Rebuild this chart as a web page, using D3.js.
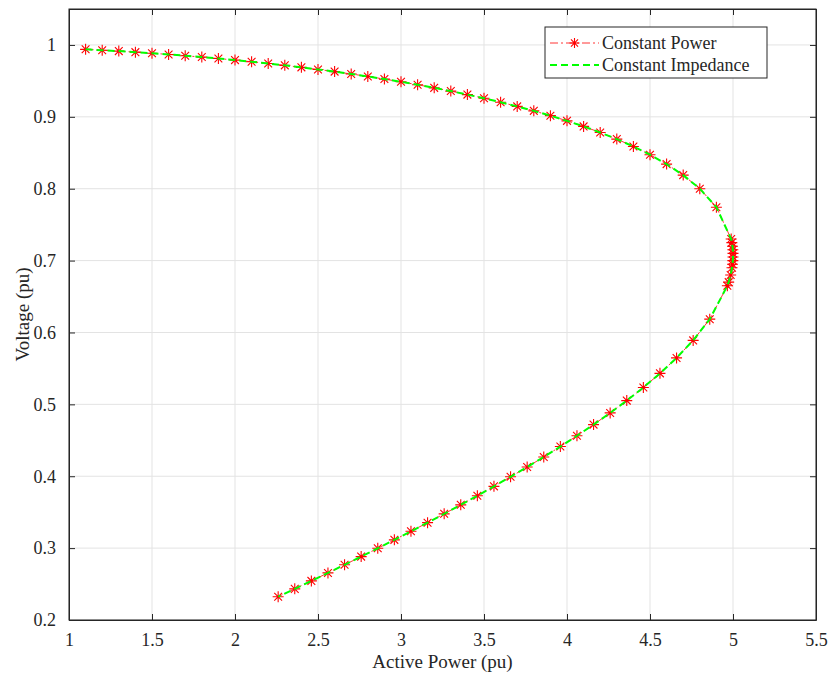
<!DOCTYPE html>
<html>
<head>
<meta charset="utf-8">
<script src="https://cdn.jsdelivr.net/npm/d3@7"></script>
<style>
  body { margin: 0; background: #fff; }
  svg text { font-family: "Liberation Serif", "Times New Roman", serif !important; fill: #262626; }
</style>
</head>
<body>
<svg id="chart" width="830" height="675"></svg>
<script>
// Constant Power (upper branch, then nose, then lower branch)
const powerP = [
  1.1, 1.2, 1.3, 1.4, 1.5, 1.6, 1.7, 1.8, 1.9, 2.0,
  2.1, 2.2, 2.3, 2.4, 2.5, 2.6, 2.7, 2.8, 2.9, 3.0,
  3.1, 3.2, 3.3, 3.4, 3.5, 3.6, 3.7, 3.8, 3.9, 4.0,
  4.1, 4.2, 4.3, 4.4, 4.5, 4.6, 4.7, 4.8, 4.9,
  4.989, 4.993, 4.997, 4.999, 5.0, 5.0, 4.999, 4.997, 4.994, 4.986, 4.974, 4.966,
  4.86, 4.76, 4.66, 4.56, 4.46, 4.36, 4.26, 4.16, 4.06, 3.96,
  3.86, 3.76, 3.66, 3.56, 3.46, 3.36, 3.26, 3.16, 3.06, 2.96,
  2.86, 2.76, 2.66, 2.56, 2.46, 2.36, 2.26
];
const powerV = [
  0.9939, 0.9927, 0.9914, 0.9900, 0.9884, 0.9868, 0.9850, 0.9831, 0.9811, 0.9789,
  0.9766, 0.9742, 0.9716, 0.9688, 0.9659, 0.9629, 0.9596, 0.9562, 0.9525, 0.9487,
  0.9446, 0.9403, 0.9358, 0.9309, 0.9258, 0.9203, 0.9145, 0.9083, 0.9016, 0.8944,
  0.8867, 0.8782, 0.8690, 0.8588, 0.8473, 0.8342, 0.8189, 0.8000, 0.7743,
  0.730, 0.725, 0.720, 0.715, 0.710, 0.705, 0.700, 0.695, 0.690, 0.680, 0.670, 0.665,
  0.6185, 0.5890, 0.5646, 0.5431, 0.5234, 0.5052, 0.4881, 0.4718, 0.4563, 0.4413,
  0.4268, 0.4128, 0.3992, 0.3859, 0.3729, 0.3602, 0.3477, 0.3354, 0.3234, 0.3115,
  0.2998, 0.2882, 0.2768, 0.2655, 0.2544, 0.2433, 0.2324
];
// Constant Impedance follows the same curve
const impedanceP = powerP.slice();
const impedanceV = powerV.slice();

const xTicks = [1, 1.5, 2, 2.5, 3, 3.5, 4, 4.5, 5, 5.5];
const yTicks = [0.2, 0.3, 0.4, 0.5, 0.6, 0.7, 0.8, 0.9, 1];
const seriesNames = ["Constant Power", "Constant Impedance"];

const svg = d3.select("#chart");
const mLeft = 69, mRight = 816, mTop = 9, mBottom = 620;
const axisColor = "#262626";
const serif = "'Liberation Serif', 'Times New Roman', serif";

const x = d3.scaleLinear().domain([1, 5.5]).range([mLeft, mRight]);
const y = d3.scaleLinear().domain([0.2, 1.05]).range([mBottom, mTop]);

// grid
const grid = svg.append("g");
grid.selectAll(".gx").data(xTicks).enter().append("line")
  .attr("x1", d => x(d)).attr("x2", d => x(d))
  .attr("y1", mTop).attr("y2", mBottom)
  .attr("stroke", "#e3e3e3").attr("stroke-width", 1);
grid.selectAll(".gy").data(yTicks).enter().append("line")
  .attr("y1", d => y(d)).attr("y2", d => y(d))
  .attr("x1", mLeft).attr("x2", mRight)
  .attr("stroke", "#e3e3e3").attr("stroke-width", 1);

// axes (ticks inward)
const fmt = d => String(d);
svg.append("g").attr("transform", `translate(0,${mBottom})`)
  .call(d3.axisBottom(x).tickValues(xTicks).tickFormat(fmt).tickSizeInner(-6).tickSizeOuter(0).tickPadding(13))
  .attr("font-family", serif).attr("font-size", 18)
  .call(g => g.selectAll("text").attr("fill", axisColor));
svg.append("g").attr("transform", `translate(0,${mTop})`)
  .call(d3.axisTop(x).tickValues(xTicks).tickFormat("").tickSizeInner(-6).tickSizeOuter(0));
svg.append("g").attr("transform", `translate(${mLeft},0)`)
  .call(d3.axisLeft(y).tickValues(yTicks).tickFormat(fmt).tickSizeInner(-6).tickSizeOuter(0).tickPadding(13))
  .attr("font-family", serif).attr("font-size", 18)
  .call(g => g.selectAll("text").attr("fill", axisColor));
svg.append("g").attr("transform", `translate(${mRight},0)`)
  .call(d3.axisRight(y).tickValues(yTicks).tickFormat("").tickSizeInner(-6).tickSizeOuter(0));
svg.selectAll(".domain").attr("stroke", axisColor);
svg.selectAll(".tick line").attr("stroke", axisColor);
svg.append("rect").attr("x", mLeft).attr("y", mTop)
  .attr("width", mRight - mLeft).attr("height", mBottom - mTop)
  .attr("fill", "none").attr("stroke", axisColor).attr("stroke-width", 1);

// axis labels
svg.append("text").attr("x", (mLeft + mRight) / 2).attr("y", 668)
  .attr("text-anchor", "middle").attr("font-family", serif).attr("font-size", 19).text("Active Power (pu)");
svg.append("text").attr("transform", `translate(29,${(mTop + mBottom) / 2}) rotate(-90)`)
  .attr("text-anchor", "middle").attr("font-family", serif).attr("font-size", 19).text("Voltage (pu)");

// series
const plot = svg.append("g");
const powerData = powerP.map((p, i) => ({ p: p, v: powerV[i] }));
const impData = impedanceP.map((p, i) => ({ p: p, v: impedanceV[i] }));
const line = d3.line().x(d => x(d.p)).y(d => y(d.v));

function star(g, cx, cy, r) {
  const a = r * 0.7071;
  const path = `M${cx - r},${cy}L${cx + r},${cy}M${cx},${cy - r}L${cx},${cy + r}` +
    `M${cx - a},${cy - a}L${cx + a},${cy + a}M${cx - a},${cy + a}L${cx + a},${cy - a}`;
  g.append("path").attr("d", path).attr("stroke", "#ff0000").attr("stroke-width", 1.1).attr("fill", "none");
}

plot.append("path").datum(powerData).attr("d", line)
  .attr("fill", "none").attr("stroke", "#ff0000").attr("stroke-width", 0.8)
  .attr("stroke-dasharray", "8,3,2,3");
const markers = plot.append("g");
powerData.forEach(d => star(markers, x(d.p), y(d.v), 5.5));

plot.append("path").datum(impData).attr("d", line)
  .attr("fill", "none").attr("stroke", "#00ff00").attr("stroke-width", 2)
  .attr("stroke-dasharray", "7,4");

// legend
const lg = svg.append("g");
lg.append("rect").attr("x", 545).attr("y", 27).attr("width", 222).attr("height", 51)
  .attr("fill", "#fff").attr("stroke", axisColor).attr("stroke-width", 1);
lg.append("line").attr("x1", 550).attr("x2", 599).attr("y1", 43).attr("y2", 43)
  .attr("stroke", "#ff0000").attr("stroke-width", 0.8).attr("stroke-dasharray", "8,3,2,3");
star(lg, 574.5, 43, 5);
lg.append("line").attr("x1", 550).attr("x2", 599).attr("y1", 65).attr("y2", 65)
  .attr("stroke", "#00ff00").attr("stroke-width", 2).attr("stroke-dasharray", "7,4");
lg.selectAll(".lt").data(seriesNames).enter().append("text")
  .attr("x", 602).attr("y", (d, i) => 49 + i * 22)
  .attr("font-family", serif).attr("font-size", 18).attr("fill", "#000").text(d => d);
</script>
</body>
</html>
